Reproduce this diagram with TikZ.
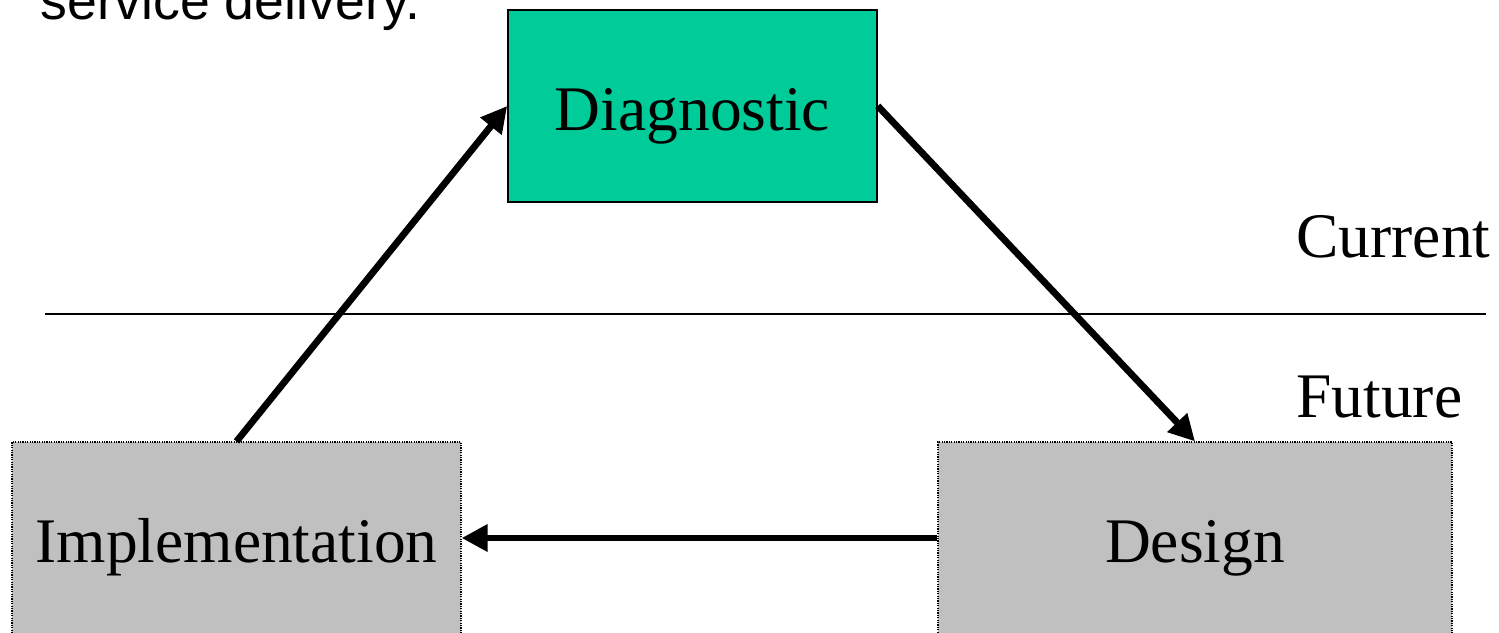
\documentclass[tikz,border=0pt]{standalone}
\usepackage{fontspec}
\setmainfont{Liberation Serif}
\newfontfamily\arialfont{Liberation Sans}
\usetikzlibrary{arrows.meta}
\definecolor{diaggreen}{RGB}{0,204,153}
\definecolor{boxgray}{RGB}{192,192,192}
\tikzset{
  big/.style={font=\fontsize{31.75}{38}\selectfont},
  greenbox/.style={draw=black, line width=0.8pt, fill=diaggreen, inner sep=0pt,
    minimum width=184.5pt, minimum height=96pt, big, text height=24pt, text depth=0pt},
  graybox/.style={draw=black, line width=0.6pt, dash pattern=on 0.6pt off 0.6pt, fill=boxgray,
    inner sep=0pt, minimum height=104pt, big, text height=16pt, text depth=0pt},
  flow/.style={line width=3.4pt, -{Triangle[length=13pt,width=13pt]}},
  sideword/.style={big, anchor=base west, inner sep=0pt},
}
\begin{document}
\begin{tikzpicture}[x=0.5pt, y=-0.5pt]
\clip (0,0) rectangle (1499,632);
\fill[white] (0,0) rectangle (1499,632);
\node[anchor=base west, inner sep=0pt, font=\arialfont\fontsize{26.8}{32}\selectfont] (svc) at (40,19) {service delivery.};
\node[greenbox] (diag) at (692.5,106) {Diagnostic};
\node[graybox, minimum width=224.5pt] (impl) at (236.5,546) {Implementation};
\node[graybox, minimum width=257pt] (design) at (1195,546) {Design};
\coordinate (sepL) at (45,314);
\coordinate (sepR) at (1486,314);
\draw[line width=0.75pt] (sepL) -- (sepR);
\node[sideword] (cur) at (1296,257) {Current};
\node[sideword] (fut) at (1296,417) {Future};
\draw[flow] (impl.north) -- (diag.west);
\draw[flow] (diag.east) -- (design.north);
\draw[flow] ([yshift=4pt]design.west) -- ([yshift=4pt]impl.east);
\end{tikzpicture}
\end{document}
